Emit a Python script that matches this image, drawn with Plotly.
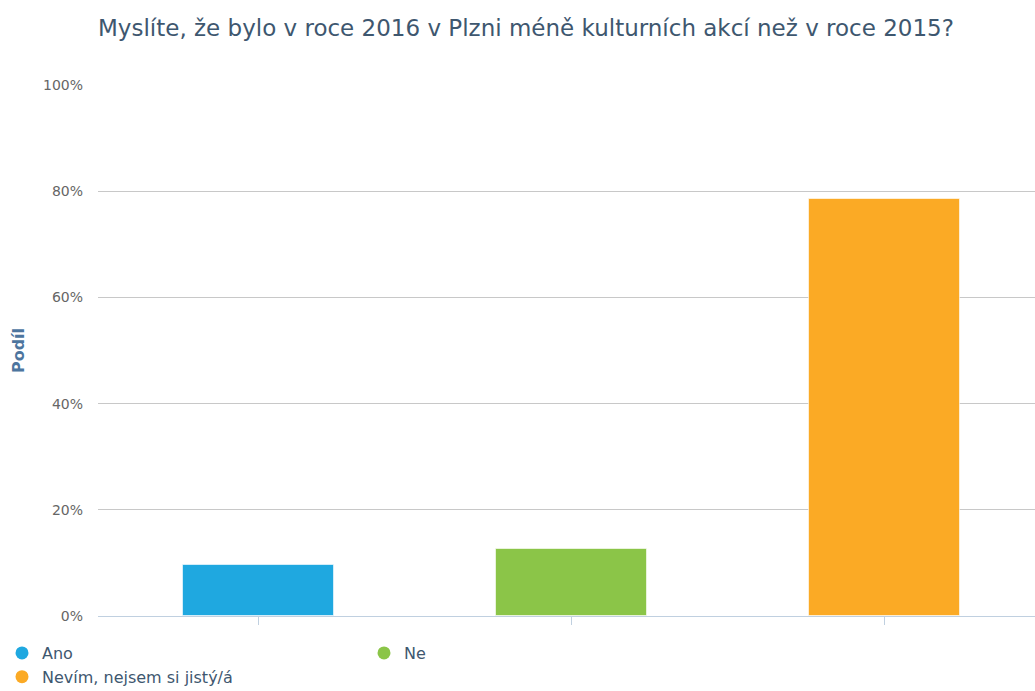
import plotly.graph_objects as go

title = "Myslíte, že bylo v roce 2016 v Plzni méně kulturních akcí než v roce 2015?"
categories = ["Ano", "Ne", "Nevím, nejsem si jistý/á"]
values = [9.6, 12.6, 78.6]
colors = ["#1FA8E0", "#8BC548", "#FBAA25"]
y_ticks = [0, 20, 40, 60, 80, 100]
y_labels = [f"{t}%" for t in y_ticks]

fig = go.Figure()
for i, (cat, val, col) in enumerate(zip(categories, values, colors)):
    fig.add_trace(go.Bar(
        x=[i], y=[val], name=cat, width=0.48,
        marker=dict(color=col, line=dict(color="rgba(255,255,255,0.6)", width=1)),
        showlegend=False, legendgroup=cat,
        hovertemplate=cat + ": %{y:.1f}%<extra></extra>",
    ))
    fig.add_trace(go.Scatter(
        x=[None], y=[None], mode="markers", name=cat, legendgroup=cat,
        marker=dict(color=col, size=13, symbol="circle"),
        showlegend=True,
    ))

fig.update_layout(
    width=1035, height=691,
    paper_bgcolor="white", plot_bgcolor="white",
    font=dict(family="DejaVu Sans", color="#333333"),
    title=dict(text=title, x=98 / 1035, xanchor="left", y=1 - 28 / 691, yanchor="middle",
               font=dict(size=23, color="#3E576F", family="DejaVu Sans")),
    margin=dict(l=98, r=0, t=85, b=75, autoexpand=False),
    bargap=0,
    xaxis=dict(range=[-0.5128, 2.481], showticklabels=False, showgrid=False, zeroline=False,
               ticks="outside", tickvals=[0, 1, 2], ticklen=8, tickcolor="#C0D0E0",
               showline=True, linecolor="#C0D0E0", linewidth=1, fixedrange=True),
    yaxis=dict(range=[0, 100], tickvals=y_ticks, ticktext=y_labels,
               tickfont=dict(size=14, color="#666666"), ticks="", ticklabelstandoff=14,
               showgrid=True, gridcolor="#C8C8C8", gridwidth=1, zeroline=False,
               title=dict(text="<b>Podíl</b>", font=dict(size=16, color="#4D759E"), standoff=14)),
    legend=dict(orientation="h", xref="container", x=2 / 1035, xanchor="left",
                yref="container", y=1 - 636 / 691, yanchor="top",
                font=dict(size=16, color="#3E576F"), entrywidth=317, entrywidthmode="pixels",
                itemwidth=30, tracegroupgap=0, bgcolor="rgba(0,0,0,0)"),
)

fig.write_html("out.html", post_script="document.body.style.margin='0';",
               config={"displayModeBar": False})
